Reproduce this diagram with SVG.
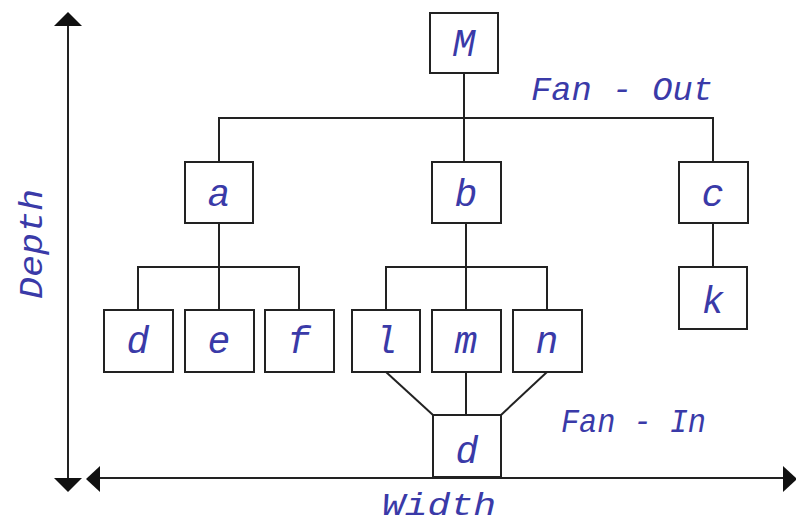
<svg xmlns="http://www.w3.org/2000/svg" width="796" height="525" viewBox="0 0 796 525">
  <style>
    .box { fill: #ffffff; stroke: #222222; stroke-width: 2; }
    .wire { fill: none; stroke: #222222; stroke-width: 2; }
    .head { fill: #111111; }
    .lbl { font-family: "Liberation Mono", "DejaVu Sans Mono", monospace; font-style: italic; fill: #3a3aa8; }
    .node { font-size: 38px; text-anchor: middle; }
    .cap { font-size: 34px; }
  </style>
  <rect width="796" height="525" fill="#ffffff"/>

  <!-- axes -->
  <g id="axes">
    <line class="wire" x1="68" y1="22" x2="68" y2="482"/>
    <polygon class="head" points="68,12 54,26 82,26"/>
    <polygon class="head" points="68,492 54,478 82,478"/>
    <line class="wire" x1="96" y1="478" x2="788" y2="478"/>
    <polygon class="head" points="86,479 100,466 100,492"/>
    <polygon class="head" points="797,479 783,466 783,492"/>
  </g>

  <!-- connectors -->
  <g id="connectors">
    <line class="wire" x1="464" y1="73" x2="464" y2="162"/>
    <polyline class="wire" points="219,162 219,118 713,118 713,162"/>
    <line class="wire" x1="219" y1="223" x2="219" y2="310"/>
    <polyline class="wire" points="138,310 138,267 299,267 299,310"/>
    <line class="wire" x1="466" y1="223" x2="466" y2="310"/>
    <polyline class="wire" points="386,310 386,267 547,267 547,310"/>
    <line class="wire" x1="713" y1="223" x2="713" y2="267"/>
    <line class="wire" x1="386" y1="372" x2="433" y2="415"/>
    <line class="wire" x1="466" y1="372" x2="466" y2="415"/>
    <line class="wire" x1="547" y1="372" x2="501" y2="415"/>
  </g>

  <g id="node-M"><rect class="box" x="430" y="13" width="68" height="60"/><text class="lbl node" x="464" y="56">M</text></g>
  <g id="node-a"><rect class="box" x="185" y="162" width="68" height="61"/><text class="lbl node" x="219" y="206">a</text></g>
  <g id="node-b"><rect class="box" x="432" y="162" width="69" height="61"/><text class="lbl node" x="466" y="206">b</text></g>
  <g id="node-c"><rect class="box" x="679" y="162" width="69" height="61"/><text class="lbl node" x="713" y="206">c</text></g>
  <g id="node-k"><rect class="box" x="679" y="267" width="68" height="62"/><text class="lbl node" x="713" y="313">k</text></g>
  <g id="node-d"><rect class="box" x="104" y="310" width="69" height="62"/><text class="lbl node" x="138" y="353">d</text></g>
  <g id="node-e"><rect class="box" x="185" y="310" width="69" height="62"/><text class="lbl node" x="219" y="353">e</text></g>
  <g id="node-f"><rect class="box" x="265" y="310" width="69" height="62"/><text class="lbl node" x="299" y="353">f</text></g>
  <g id="node-l"><rect class="box" x="352" y="310" width="68" height="62"/><text class="lbl node" x="386" y="353">l</text></g>
  <g id="node-m"><rect class="box" x="432" y="310" width="69" height="62"/><text class="lbl node" x="466" y="353">m</text></g>
  <g id="node-n"><rect class="box" x="513" y="310" width="69" height="62"/><text class="lbl node" x="547" y="353">n</text></g>
  <g id="node-d2"><rect class="box" x="433" y="415" width="68" height="62"/><text class="lbl node" x="467" y="463">d</text></g>

  <!-- captions -->
  <g id="captions">
    <text class="lbl cap" x="531" y="100" textLength="182" lengthAdjust="spacingAndGlyphs">Fan - Out</text>
    <text class="lbl cap" x="561" y="432" textLength="145" lengthAdjust="spacingAndGlyphs">Fan - In</text>
    <text class="lbl cap" x="382" y="515" style="font-size:32px" textLength="114" lengthAdjust="spacingAndGlyphs">Width</text>
    <text class="lbl cap" transform="translate(42,299) rotate(-90)" textLength="110" lengthAdjust="spacingAndGlyphs">Depth</text>
  </g>
</svg>
